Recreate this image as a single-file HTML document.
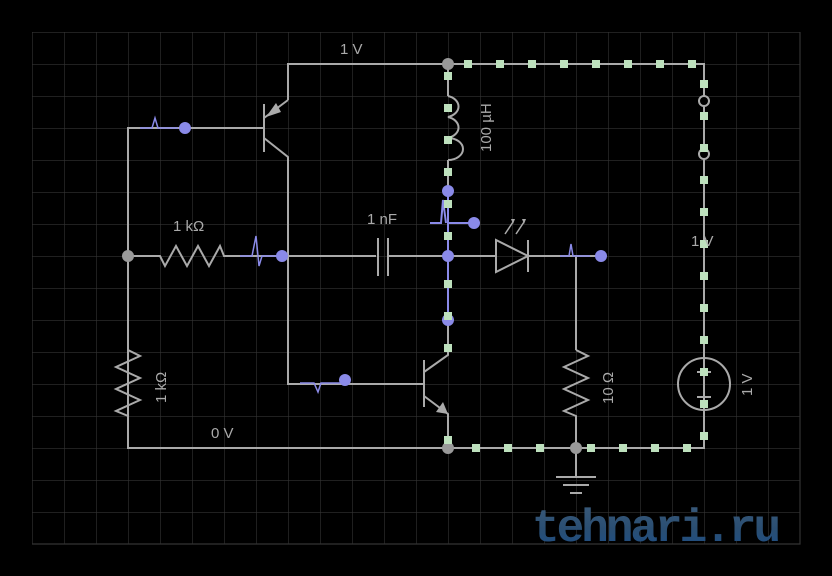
<!DOCTYPE html>
<html><head><meta charset="utf-8"><style>
html,body{margin:0;padding:0;background:#000;width:832px;height:576px;overflow:hidden}
svg{display:block}
text{font-family:"Liberation Sans",sans-serif;fill:#aaa;font-size:15px}
</style></head><body>
<svg width="832" height="576" viewBox="0 0 832 576">
<defs>
<pattern id="g" width="32" height="32" patternUnits="userSpaceOnUse" x="0" y="0">
<path d="M0 0H32M0 0V32" stroke="#333" stroke-width="1.2" fill="none"/>
</pattern>
<linearGradient id="wm" x1="0" y1="0" x2="0" y2="1">
<stop offset="0" stop-color="#3a5a7a"/><stop offset="0.5" stop-color="#2a4e72"/><stop offset="1" stop-color="#1a4e8a"/>
</linearGradient>
</defs>
<rect x="32" y="32" width="768" height="512" fill="url(#g)"/>
<path d="M800 32V544H32" stroke="#333" stroke-width="1.2" fill="none"/>

<text x="532" y="541" style="font-family:'Liberation Mono',monospace;font-weight:bold;font-size:46px;fill:url(#wm);letter-spacing:-3px">tehnari.ru</text>

<g stroke="#aaa" stroke-width="2" fill="none">
<path d="M288 100V64H704V448H128V128H264"/>
<path d="M264 104V152"/>
<path d="M264 118L288 100"/>
<path d="M264 138L288 157V384H424"/>
<path d="M128 256H160L165 266L176 246L187 266L198 246L209 266L220 246L224 256H376"/>
<path d="M378 238V276M388 238V276"/>
<path d="M388 256H496"/>
<path d="M448 64V96"/>
<path d="M448 96A15 11 0 0 1 448 117A15 11 0 0 1 448 138A15 11 0 0 1 448 160"/>
<path d="M448 160V190"/>
<path d="M496 240V272L528 256Z"/>
<path d="M528 240V272M528 256H600M576 256V350"/>
<path d="M505 234L513 222M516 234L524 222" stroke-width="1.5"/>
<path d="M576 350L588 356L564 367L588 378L564 389L588 400L564 411L576 416V448"/>
<path d="M128 350L140 356L116 367L140 378L116 389L140 400L116 411L128 416"/>
<path d="M424 360V407"/>
<path d="M424 372L448 355V320"/>
<path d="M424 396L448 414V448"/>
<path d="M576 448V477M556 477H596M563 485H589M570 493H582"/>
<circle cx="704" cy="384" r="26"/>
<path d="M697 372H711M704 365V379M697 397H711"/>
<circle cx="704" cy="101" r="5" fill="#000"/>
<circle cx="704" cy="154" r="5" fill="#000"/>
</g>
<path d="M266 117L276 103L281 112Z" fill="#aaa"/>
<path d="M448 414L436 412L443 402Z" fill="#aaa"/>
<path d="M511 219L515 219L513 224Z M522 219L526 219L524 224Z" fill="#aaa"/>

<path d="M448 190V320M448 223H473" stroke="#8a8ae8" stroke-width="2"/>
<path d="M430 223H441L443 200L446 223" stroke="#8a8ae8" stroke-width="2" fill="none"/>
<g fill="#8a8ae8">
<circle cx="448" cy="191" r="6"/><circle cx="448" cy="256" r="6"/><circle cx="448" cy="320" r="6"/><circle cx="474" cy="223" r="6"/>
<circle cx="282" cy="256" r="6"/><circle cx="185" cy="128" r="6"/><circle cx="345" cy="380" r="6"/><circle cx="601" cy="256" r="6"/>
</g>
<g stroke="#8a8ae8" stroke-width="1.5" fill="none">
<path d="M240 256H252L256 236L259 266L262 256H276"/>
<path d="M140 128H152L155 118L158 128H178"/>
<path d="M300 383H314L318 392L321 383H340"/>
<path d="M560 256H569L571 244L573 256H590"/>
</g>
<g fill="#999">
<circle cx="448" cy="64" r="6"/><circle cx="448" cy="448" r="6"/><circle cx="576" cy="448" r="6"/><circle cx="128" cy="256" r="6"/>
</g>
<g fill="#bde0bd">
<rect x="464" y="60" width="8" height="8"/><rect x="496" y="60" width="8" height="8"/><rect x="528" y="60" width="8" height="8"/><rect x="560" y="60" width="8" height="8"/><rect x="592" y="60" width="8" height="8"/><rect x="624" y="60" width="8" height="8"/><rect x="656" y="60" width="8" height="8"/><rect x="688" y="60" width="8" height="8"/>
<rect x="700" y="80" width="8" height="8"/><rect x="700" y="112" width="8" height="8"/><rect x="700" y="144" width="8" height="8"/><rect x="700" y="176" width="8" height="8"/><rect x="700" y="208" width="8" height="8"/><rect x="700" y="240" width="8" height="8"/><rect x="700" y="272" width="8" height="8"/><rect x="700" y="304" width="8" height="8"/><rect x="700" y="336" width="8" height="8"/><rect x="700" y="368" width="8" height="8"/><rect x="700" y="400" width="8" height="8"/><rect x="700" y="432" width="8" height="8"/>
<rect x="683" y="444" width="8" height="8"/><rect x="651" y="444" width="8" height="8"/><rect x="619" y="444" width="8" height="8"/><rect x="587" y="444" width="8" height="8"/><rect x="536" y="444" width="8" height="8"/><rect x="504" y="444" width="8" height="8"/><rect x="472" y="444" width="8" height="8"/>
<rect x="444" y="436" width="8" height="8"/><rect x="444" y="344" width="8" height="8"/><rect x="444" y="312" width="8" height="8"/><rect x="444" y="280" width="8" height="8"/><rect x="444" y="232" width="8" height="8"/><rect x="444" y="200" width="8" height="8"/><rect x="444" y="168" width="8" height="8"/><rect x="444" y="136" width="8" height="8"/><rect x="444" y="104" width="8" height="8"/><rect x="444" y="72" width="8" height="8"/>
</g>

<text x="340" y="54">1 V</text>
<text x="173" y="231">1 kΩ</text>
<text x="367" y="224">1 nF</text>
<text x="691" y="246">1 V</text>
<text x="211" y="438">0 V</text>
<text transform="translate(491,152) rotate(-90)">100 µH</text>
<text transform="translate(166,403) rotate(-90)">1 kΩ</text>
<text transform="translate(613,404) rotate(-90)">10 Ω</text>
<text transform="translate(752,396) rotate(-90)">1 V</text>
</svg>
</body></html>
